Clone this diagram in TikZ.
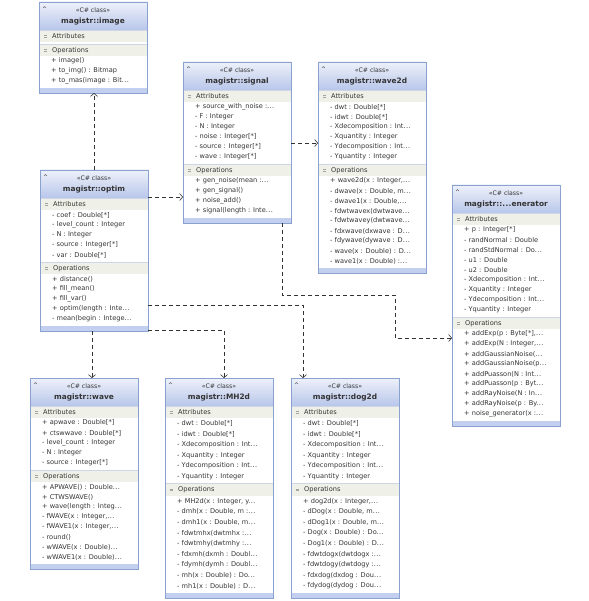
\documentclass[tikz,border=0pt]{standalone}
\usepackage{fontspec}
\setmainfont{DejaVu Sans}
\usetikzlibrary{arrows.meta}

\definecolor{boxline}{HTML}{8AA2D0}
\definecolor{hdtop}{HTML}{EEF1FA}
\definecolor{hdbot}{HTML}{B8C6EA}
\definecolor{bandfill}{HTML}{EFF1E8}
\definecolor{barfill}{HTML}{C3CFEE}
\definecolor{sepline}{HTML}{CDD5E6}
\definecolor{txt}{HTML}{333333}

\newcommand{\pitch}{10}
\newcommand{\etc}{.\kern0.4pt.\kern0.4pt.}

% class box: name, x, y (top left), title, #attrs, attrs, #ops, ops
\newcommand{\umlclass}[8]{%
  \pgfmathsetmacro{\ya}{#3+28}
  \pgfmathsetmacro{\yo}{\ya+14+\pitch*#5}
  \pgfmathsetmacro{\yb}{\yo+14+\pitch*#7}
  \pgfmathsetmacro{\hh}{\yb+5-#3}
  \node[classbox, minimum height=\hh pt] (#1) at (#2,#3) {};
  \shade[top color=hdtop, bottom color=hdbot] (#1.north west) rectangle (#2+108,\ya);
  \fill[barfill] (#2,\yb) rectangle (#1.south east);
  \draw[txt!70, line width=0.4pt] (#2+4,#3+6) -- (#2+5.5,#3+4.5) -- (#2+7,#3+6);
  \node[stereo] at (#2+54,#3+8) {«C\# class»};
  \node[clstitle] at (#2+54,#3+19) {#4};
  \foreach \yy/\lab in {\ya/Attributes, \yo/Operations} {
    \fill[bandfill] (#2,\yy) rectangle (#2+108,\yy+12);
    \draw[sepline] (#2,\yy) -- (#2+108,\yy);
    \draw[txt!45, line width=0.4pt] (#2+5,\yy+5.6) -- ++(3,0) (#2+5,\yy+7) -- ++(3,0);
    \node[band] at (#2+13,\yy+6.5) {\lab};
  }
  \foreach \t [count=\i] in {#6} {\node[item] at (#2+12,\ya+7+\pitch*\i) {\t};}
  \foreach \t [count=\i] in {#8} {\node[item] at (#2+12,\yo+7+\pitch*\i) {\t};}
  \draw[boxline] (#1.north west) rectangle (#1.south east);
}

\begin{document}
\begin{tikzpicture}[x=1pt, y=-1pt,
    classbox/.style={rectangle, fill=white, inner sep=0pt, outer sep=0pt,
      minimum width=108pt, anchor=north west},
    item/.style={anchor=west, inner sep=0pt, text=txt, font=\fontsize{6.6}{7}\selectfont},
    band/.style={anchor=west, inner sep=0pt, text=txt, font=\fontsize{6.6}{7}\selectfont},
    stereo/.style={inner sep=0pt, text=txt, font=\fontsize{6.2}{7}\selectfont},
    clstitle/.style={inner sep=0pt, text=txt, font=\bfseries\fontsize{7.4}{8}\selectfont},
    dep/.style={draw=txt, line width=0.6pt, dash pattern=on 4pt off 3pt,
      -{Straight Barb[length=3pt,width=7pt]}}]
  \useasboundingbox (0,0) rectangle (588,601);

  \umlclass{image}{39}{2}{magistr::image}{0}{}{3}{%
    {+ image()}, {+ to\_img() : Bitmap}, {+ to\_mas(image : Bit\etc}}

  \umlclass{optim}{40}{170}{magistr::optim}{5}{%
    {- coef : Double[*]}, {- level\_count : Integer}, {- N : Integer},
    {- source : Integer[*]}, {- var : Double[*]}}{5}{%
    {+ distance()}, {+ fill\_mean()}, {+ fill\_var()},
    {+ optim(length : Inte\etc}, {- mean(begin : Intege\etc}}

  \umlclass{signal}{183}{62}{magistr::signal}{6}{%
    {+ source\_with\_noise :\etc}, {- F : Integer}, {- N : Integer},
    {- noise : Integer[*]}, {- source : Integer[*]}, {- wave : Integer[*]}}{4}{%
    {+ gen\_noise(mean :\etc}, {+ gen\_signal()}, {+ noise\_add()},
    {+ signal(length : Inte\etc}}

  \umlclass{wave2d}{318}{62}{magistr::wave2d}{6}{%
    {- dwt : Double[*]}, {- idwt : Double[*]}, {- Xdecomposition : Int\etc},
    {- Xquantity : Integer}, {- Ydecomposition : Int\etc}, {- Yquantity : Integer}}{9}{%
    {+ wave2d(x : Integer,\etc}, {- dwave(x : Double, m\etc}, {- dwave1(x : Double,\etc},
    {- fdwtwavex(dwtwave\etc}, {- fdwtwavey(dwtwave\etc}, {- fdxwave(dxwave : D\etc},
    {- fdywave(dywave : D\etc}, {- wave(x : Double) : D\etc}, {- wave1(x : Double) :\etc}}

  \umlclass{generator}{452}{185}{magistr::\etc enerator}{9}{%
    {+ p : Integer[*]}, {- randNormal : Double}, {- randStdNormal : Do\etc},
    {- u1 : Double}, {- u2 : Double}, {- Xdecomposition : Int\etc},
    {- Xquantity : Integer}, {- Ydecomposition : Int\etc}, {- Yquantity : Integer}}{9}{%
    {+ addExp(p : Byte[*],\etc}, {+ addExp(N : Integer,\etc}, {+ addGaussianNoise(\etc},
    {+ addGaussianNoise(p\etc}, {+ addPuasson(N : Int\etc}, {+ addPuasson(p : Byt\etc},
    {+ addRayNoise(N : In\etc}, {+ addRayNoise(p : By\etc}, {+ noise\_generator(x :\etc}}

  \umlclass{wave}{30}{378}{magistr::wave}{5}{%
    {+ apwave : Double[*]}, {+ ctswwave : Double[*]}, {- level\_count : Integer},
    {- N : Integer}, {- source : Integer[*]}}{8}{%
    {+ APWAVE() : Double\etc}, {+ CTWSWAVE()}, {+ wave(length : Integ\etc},
    {- fWAVE(x : Integer,\etc}, {- fWAVE1(x : Integer,\etc}, {- round()},
    {- wWAVE(x : Double)\etc}, {- wWAVE1(x : Double)\etc}}

  \renewcommand{\pitch}{10.6}
  \umlclass{MH2d}{165}{378}{magistr::MH2d}{6}{%
    {- dwt : Double[*]}, {- idwt : Double[*]}, {- Xdecomposition : Int\etc},
    {- Xquantity : Integer}, {- Ydecomposition : Int\etc}, {- Yquantity : Integer}}{9}{%
    {+ MH2d(x : Integer, y\etc}, {- dmh(x : Double, m :\etc}, {- dmh1(x : Double, m\etc},
    {- fdwtmhx(dwtmhx :\etc}, {- fdwtmhy(dwtmhy :\etc}, {- fdxmh(dxmh : Doubl\etc},
    {- fdymh(dymh : Doubl\etc}, {- mh(x : Double) : Do\etc}, {- mh1(x : Double) : D\etc}}

  \umlclass{dog2d}{291}{378}{magistr::dog2d}{6}{%
    {- dwt : Double[*]}, {- idwt : Double[*]}, {- Xdecomposition : Int\etc},
    {- Xquantity : Integer}, {- Ydecomposition : Int\etc}, {- Yquantity : Integer}}{9}{%
    {+ dog2d(x : Integer,\etc}, {- dDog(x : Double, m\etc}, {- dDog1(x : Double, m\etc},
    {- Dog(x : Double) : Do\etc}, {- Dog1(x : Double) : D\etc}, {- fdwtdogx(dwtdogx :\etc},
    {- fdwtdogy(dwtdogy :\etc}, {- fdxdog(dxdog : Dou\etc}, {- fdydog(dydog : Dou\etc}}

  % dependencies
  \draw[dep] (optim.north) -- (optim.north |- image.south);
  \draw[dep] ([yshift=-27pt]optim.north east) -- ([yshift=-27pt]optim.north east -| signal.west);
  \draw[dep] ([yshift=-81pt]signal.north east) -- ([yshift=-81pt]signal.north east -| wave2d.west);
  \draw[dep] ([xshift=-9pt]signal.south east) -- ++(0,72)
    -| ([xshift=-57pt,yshift=-153pt]generator.north west) -- ([yshift=-153pt]generator.north west);
  \draw[dep] ([yshift=-135pt]optim.north east) -| ([xshift=12pt]dog2d.north west);
  \draw[dep] ([yshift=1pt]optim.south east) -| ([xshift=59pt]MH2d.north west);
  \draw[dep] ([xshift=-2pt]optim.south) -- ([xshift=-2pt]optim.south |- wave.north);
\end{tikzpicture}
\end{document}
